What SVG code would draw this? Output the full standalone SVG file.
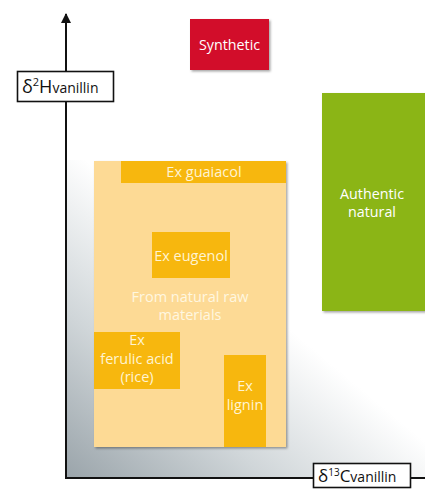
<svg xmlns="http://www.w3.org/2000/svg" width="425" height="490" viewBox="0 0 425 490">
<defs>
<linearGradient id="bg" x1="0" y1="1" x2="0.75" y2="0.2">
<stop offset="0" stop-color="#9aa4aa"/>
<stop offset="0.35" stop-color="#d0d6d9"/>
<stop offset="0.7" stop-color="#ffffff"/>
</linearGradient>
<filter id="sh" x="-10%" y="-10%" width="125%" height="125%">
<feDropShadow dx="1.5" dy="1.5" stdDeviation="1.2" flood-color="#000" flood-opacity="0.35"/>
</filter>
<marker id="arr" viewBox="0 0 10 10" refX="9" refY="5" markerWidth="5" markerHeight="5" orient="auto">
<path d="M0,0 L10,5 L0,10 z" fill="#111"/>
</marker>
</defs>
<style>
text{font-family:"Open Sans","Liberation Sans",sans-serif;}
.lt{fill:#fff4d2;font-size:14.5px;text-anchor:middle;}
.wt{fill:#ffffff;font-size:14.3px;text-anchor:middle;}
.amb{fill:#f7b70e;}
.ax{stroke:#111;stroke-width:2;fill:none;}
.lbl{fill:#fff;stroke:#111;stroke-width:1.6;}
.at{fill:#111;}
.fn{fill:#fff7e0;font-size:14.5px;text-anchor:middle;}
</style>
<rect x="66" y="160" width="359" height="318" fill="url(#bg)"/>
<g id="connectors">
<line class="ax" x1="66" y1="478" x2="66" y2="14" marker-end="url(#arr)"/>
<line class="ax" x1="65" y1="478" x2="425" y2="478"/>
</g>
<g id="natural-raw">
<rect x="94" y="161" width="192" height="286" fill="#fdda95" filter="url(#sh)"/>
<text class="fn" x="190" y="302">From natural raw</text>
<text class="fn" x="190" y="320">materials</text>
</g>
<g id="guaiacol">
<rect class="amb" x="121" y="161" width="165" height="22"/>
<text class="lt" x="204" y="177">Ex guaiacol</text>
</g>
<g id="eugenol">
<rect class="amb" x="152" y="232" width="78" height="46"/>
<text class="lt" x="191" y="261">Ex eugenol</text>
</g>
<g id="ferulic">
<rect class="amb" x="94" y="332" width="86" height="57"/>
<text class="lt" x="137" y="345">Ex</text>
<text class="lt" x="137" y="364">ferulic acid</text>
<text class="lt" x="137" y="382">(rice)</text>
</g>
<g id="lignin">
<rect class="amb" x="224" y="355" width="42" height="92"/>
<text class="lt" x="245" y="391">Ex</text>
<text class="lt" x="245" y="410">lignin</text>
</g>
<g id="synthetic">
<rect x="190" y="19" width="79" height="51" fill="#d2112b" filter="url(#sh)"/>
<text class="wt" x="229.5" y="50">Synthetic</text>
</g>
<g id="authentic">
<rect x="322" y="93" width="110" height="218" fill="#8bb519" filter="url(#sh)"/>
<text class="wt" x="372" y="199">Authentic</text>
<text class="wt" x="372" y="217">natural</text>
</g>
<g id="ylabel">
<rect class="lbl" x="17.5" y="71.5" width="96" height="30"/>
<text class="at" x="22" y="93" font-size="18">δ<tspan font-size="11" dy="-7">2</tspan><tspan dy="7">H</tspan><tspan font-size="14">vanillin</tspan></text>
</g>
<g id="xlabel">
<rect class="lbl" x="313.5" y="463.5" width="97" height="24"/>
<text class="at" x="318" y="482" font-size="17">δ<tspan font-size="10" dy="-6">13</tspan><tspan dy="6">C</tspan><tspan font-size="14">vanillin</tspan></text>
</g>
</svg>
